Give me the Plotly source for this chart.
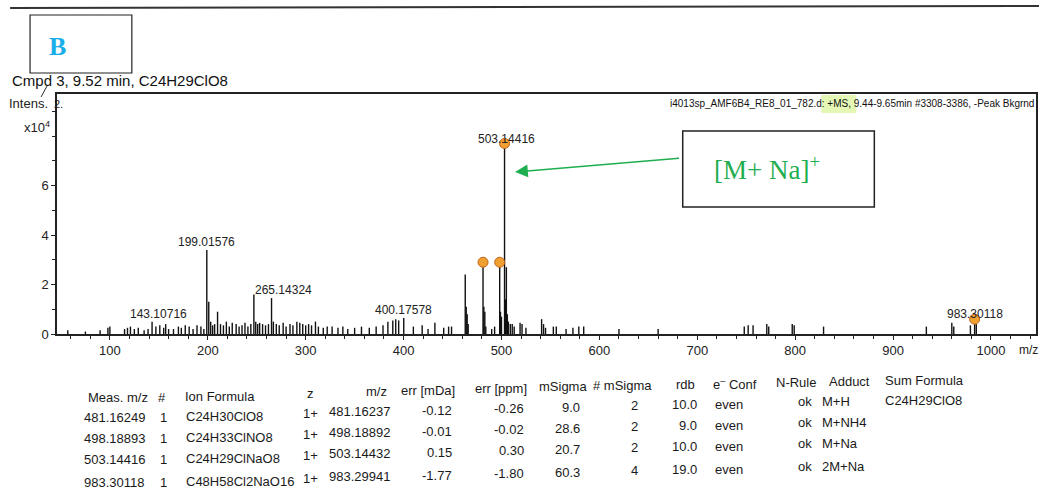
import plotly.graph_objects as go

# ---------------- data ----------------
peak_mz = [57, 75, 90, 98, 100, 115, 118, 121, 125, 129, 135, 139, 143.10716, 147, 151, 155, 157, 160,
           165, 170, 173, 177, 181, 185, 189, 193, 196, 199.01576, 201, 203, 205, 207, 210, 213, 216,
           219, 222, 225, 229, 232, 235, 238, 241, 244, 247.1, 249, 251, 253, 256, 259, 262, 265.14324,
           267, 270, 273, 277, 280, 284, 287, 291, 294, 297, 300, 303, 306, 310, 313, 318, 322, 327,
           333, 338, 343, 350, 357, 365, 372, 379, 384, 389, 392, 395, 400.17578, 410, 419, 425, 432,
           441, 446, 449, 463, 464, 465, 466, 481.16249, 482, 483, 484, 490, 493, 498.18893, 499, 500,
           503.14416, 504, 505, 506, 507, 509, 511, 513, 519, 521, 525, 541, 543, 545, 553, 556, 566,
           573, 579, 584, 620, 660, 748, 752, 757, 771, 773, 797, 799, 829, 934, 960, 962, 979,
           983.30118, 985]
peak_int = [0.15, 0.1, 0.15, 0.25, 0.3, 0.2, 0.25, 0.3, 0.2, 0.25, 0.15, 0.2, 0.5, 0.3, 0.35, 0.25, 0.4, 0.2,
            0.2, 0.3, 0.25, 0.35, 0.3, 0.2, 0.35, 0.3, 0.2, 3.4, 1.3, 0.5, 0.35, 0.4, 0.9, 0.4, 0.35,
            0.5, 0.3, 0.45, 0.4, 0.3, 0.35, 0.45, 0.3, 0.4, 1.6, 0.5, 0.4, 0.45, 0.4, 0.35, 0.4, 1.45,
            0.5, 0.4, 0.35, 0.45, 0.3, 0.4, 0.35, 0.5, 0.45, 0.4, 0.35, 0.4, 0.35, 0.5, 0.3, 0.25, 0.3, 0.3,
            0.25, 0.3, 0.2, 0.25, 0.3, 0.25, 0.3, 0.35, 0.5, 0.55, 0.6, 0.55, 0.65, 0.3, 0.35, 0.2, 0.45,
            0.25, 0.3, 0.3, 2.4, 1.1, 0.8, 0.4, 2.9, 1.1, 0.9, 0.3, 0.2, 0.3, 2.9, 0.9, 0.7,
            7.7, 1.4, 2.7, 0.8, 0.5, 0.4, 0.4, 0.3, 0.45, 0.4, 0.25, 0.6, 0.4, 0.25, 0.3, 0.3, 0.2,
            0.25, 0.3, 0.3, 0.2, 0.2, 0.3, 0.35, 0.35, 0.4, 0.3, 0.4, 0.35, 0.3, 0.3, 0.45, 0.3, 0.35,
            0.6, 0.4]

label_mz = [143.10716, 199.01576, 265.14324, 400.17578, 503.14416, 983.30118]
label_int = [0.5, 3.4, 1.45, 0.65, 7.7, 0.6]
label_text = ["143.10716", "199.01576", "265.14324", "400.17578", "503.14416", "983.30118"]
label_xshift = [6, 0, 12, 0, 2, 0]
label_yshift = [-1, -1, -1, -1, -5, -4]

marked_mz = [481.16249, 498.18893, 503.14416, 983.30118]
marked_int = [2.9, 2.9, 7.7, 0.6]

x_tickvals = [100, 200, 300, 400, 500, 600, 700, 800, 900, 1000]
y_tickvals = [0, 2, 4, 6]

tbl_meas = ["481.16249", "498.18893", "503.14416", "983.30118"]
tbl_num = ["1", "1", "1", "1"]
tbl_formula = ["C24H30ClO8", "C24H33ClNO8", "C24H29ClNaO8", "C48H58Cl2NaO16"]
tbl_z = ["1+", "1+", "1+", "1+"]
tbl_mz = ["481.16237", "498.18892", "503.14432", "983.29941"]
tbl_err_mda = ["-0.12", "-0.01", "0.15", "-1.77"]
tbl_err_ppm = ["-0.26", "-0.02", "0.30", "-1.80"]
tbl_msigma = ["9.0", "28.6", "20.7", "60.3"]
tbl_nmsigma = ["2", "2", "2", "4"]
tbl_rdb = ["10.0", "9.0", "10.0", "19.0"]
tbl_econf = ["even", "even", "even", "even"]
tbl_nrule = ["ok", "ok", "ok", "ok"]
tbl_adduct = ["M+H", "M+NH4", "M+Na", "2M+Na"]
tbl_sum = ["C24H29ClO8", "", "", ""]

# ---------------- geometry helpers ----------------
W, H = 1041, 493
L, R, T, B = 57, 1038, 94, 334


def px(x):
    return (x - L) / (R - L)


def py(y):
    return (B - y) / (B - T)


FONT = "Liberation Sans, Arial, sans-serif"
SERIF = "Liberation Serif, Times New Roman, serif"

fig = go.Figure()

xs, ys = [], []
for m, h in zip(peak_mz, peak_int):
    xs += [m, m, None]
    ys += [0, h, None]
fig.add_trace(go.Scatter(x=xs, y=ys, mode="lines", line=dict(color="#111111", width=1.4),
                         hoverinfo="skip", showlegend=False))

fig.add_trace(go.Scatter(x=marked_mz, y=marked_int, mode="markers",
                         marker=dict(size=10, color="#f0a030", line=dict(color="#c0651a", width=1)),
                         showlegend=False, hoverinfo="skip"))

ann = []
for m, h, t, xs_, ys_ in zip(label_mz, label_int, label_text, label_xshift, label_yshift):
    ann.append(dict(x=m, y=h, xref="x", yref="y", text=t, showarrow=False, yanchor="bottom",
                    xshift=xs_, yshift=ys_, font=dict(family=FONT, size=12, color="#222")))

# title and labels
ann.append(dict(x=px(10), y=py(80), xref="paper", yref="paper", text="Cmpd 3, 9.52 min, C24H29ClO8",
                showarrow=False, xanchor="left", yanchor="middle",
                font=dict(family=FONT, size=15, color="#111")))
ann.append(dict(x=px(1038), y=py(103), xref="paper", yref="paper",
                text="i4013sp_AMF6B4_RE8_01_782.d: +MS, 9.44-9.65min #3308-3386, -Peak Bkgrnd",
                showarrow=False, xanchor="right", yanchor="middle",
                font=dict(family=FONT, size=10, color="#111")))
ann.append(dict(x=px(50), y=py(104), xref="paper", yref="paper", text="Intens.",
                showarrow=False, xanchor="right", yanchor="middle",
                font=dict(family=FONT, size=13, color="#222")))
ann.append(dict(x=px(52), y=py(104), xref="paper", yref="paper", text="2.",
                showarrow=False, xanchor="left", yanchor="middle",
                font=dict(family=FONT, size=11, color="#222")))
ann.append(dict(x=px(52), y=py(127), xref="paper", yref="paper", text="x10<sup>4</sup>",
                showarrow=False, xanchor="right", yanchor="middle",
                font=dict(family=FONT, size=13, color="#222")))
ann.append(dict(x=px(1030), y=py(350), xref="paper", yref="paper", text="m/z",
                showarrow=False, xanchor="center", yanchor="middle",
                font=dict(family=FONT, size=12, color="#222")))
ann.append(dict(x=px(58), y=py(46), xref="paper", yref="paper", text="<b>B</b>",
                showarrow=False, xanchor="center", yanchor="middle",
                font=dict(family=SERIF, size=26, color="#1aaee8")))
ann.append(dict(x=px(768), y=py(168), xref="paper", yref="paper", text="[M+ Na]<sup>+</sup>",
                showarrow=False, xanchor="center", yanchor="middle",
                font=dict(family=SERIF, size=27, color="#1fae4f")))
# arrow
ann.append(dict(x=px(516), y=py(172), xref="paper", yref="paper", text=" ", showarrow=True,
                ax=683 - 516, ay=158 - 172, axref="pixel", ayref="pixel",
                arrowhead=2, arrowsize=1.6, arrowwidth=1.6, arrowcolor="#1fae4f"))

# table
SLOPE = 0.0236


def ty(row_y, x):
    return py(row_y - SLOPE * (x - 80))


row_y = [419, 440, 461, 484]
header_y = 399
cols = [
    ("Meas. m/z", 150, "right", tbl_meas, 147, "right"),
    ("#", 162, "center", tbl_num, 164, "center"),
    ("Ion Formula", 183, "left", tbl_formula, 184, "left"),
    ("z", 311, "center", tbl_z, 311, "center"),
    ("m/z", 390, "right", tbl_mz, 393, "right"),
    ("err [mDa]", 458, "right", tbl_err_mda, 455, "right"),
    ("err [ppm]", 530, "right", tbl_err_ppm, 527, "right"),
    ("mSigma", 590, "right", tbl_msigma, 583, "right"),
    ("# mSigma", 655, "right", tbl_nmsigma, 641, "right"),
    ("rdb", 698, "right", tbl_rdb, 700, "right"),
    ("e<sup>–</sup> Conf", 712, "left", tbl_econf, 714, "left"),
    ("N-Rule", 775, "left", tbl_nrule, 816, "right"),
    ("Adduct", 829, "left", tbl_adduct, 822, "left"),
    ("Sum Formula", 885, "left", tbl_sum, 885, "left"),
]
TF = dict(family=FONT, size=13, color="#1a1a1a")
for head, hx, ha, vals, vx, va in cols:
    ann.append(dict(x=px(hx), y=ty(header_y, hx), xref="paper", yref="paper", text=head,
                    showarrow=False, xanchor=ha, yanchor="middle", font=TF))
    for v, ry in zip(vals, row_y):
        if v:
            ann.append(dict(x=px(vx), y=ty(ry, vx), xref="paper", yref="paper", text=v,
                            showarrow=False, xanchor=va, yanchor="middle", font=TF))

shapes = [
    dict(type="line", xref="paper", yref="paper", x0=px(10), y0=py(8), x1=px(1041), y1=py(6),
         line=dict(color="#333", width=2)),
    dict(type="rect", xref="paper", yref="paper", x0=px(30), y0=py(15), x1=px(132), y1=py(73),
         line=dict(color="#222", width=1.2), fillcolor="rgba(0,0,0,0)"),
    dict(type="rect", xref="paper", yref="paper", x0=px(684), y0=py(131), x1=px(876), y1=py(207),
         line=dict(color="#222", width=1.5), fillcolor="rgba(0,0,0,0)"),
    dict(type="rect", xref="paper", yref="paper", x0=px(823), y0=py(95), x1=px(858), y1=py(113),
         line=dict(width=0), fillcolor="rgba(205,240,120,0.55)", layer="below"),
    dict(type="line", xref="paper", yref="paper", x0=px(47), y0=py(86), x1=px(41), y1=py(97),
         line=dict(color="#333", width=1)),
]

fig.update_layout(
    width=W, height=H,
    margin=dict(l=L, r=W - R, t=T, b=H - B, pad=0),
    paper_bgcolor="white", plot_bgcolor="white",
    showlegend=False,
    annotations=ann, shapes=shapes,
    xaxis=dict(range=[46, 1046], tickvals=x_tickvals, showgrid=False, zeroline=False,
               showline=True, mirror=True, linecolor="#222", linewidth=1.5,
               ticks="outside", ticklen=4, tickcolor="#222",
               minor=dict(dtick=20, tick0=0, ticks="outside", ticklen=3, tickcolor="#222"),
               tickfont=dict(family=FONT, size=13, color="#222")),
    yaxis=dict(range=[0, 9.7], tickvals=y_tickvals, showgrid=False,
               zeroline=False, showline=True, mirror=True, linecolor="#222", linewidth=1.5,
               ticks="outside", ticklen=4, tickcolor="#222",
               minor=dict(dtick=1, tick0=0, ticks="outside", ticklen=3, tickcolor="#222"),
               tickfont=dict(family=FONT, size=13, color="#222")),
)

fig.write_html("out.html")
